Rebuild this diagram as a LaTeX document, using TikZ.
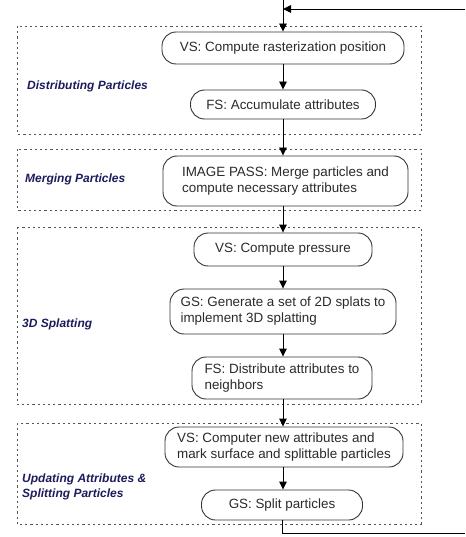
\documentclass[tikz,border=0pt]{standalone}
\usepackage{fontspec}
\setmainfont{Liberation Sans}
\usetikzlibrary{arrows.meta}
\definecolor{boxgray}{HTML}{333333}
\definecolor{txtgray}{HTML}{2A2A2A}
\definecolor{grpgray}{HTML}{555555}
\definecolor{navy}{HTML}{1C1C5C}
\tikzset{
  stepbox/.style={draw=boxgray, line width=0.9pt, rounded corners=14pt, text=txtgray,
    font=\fontsize{13.4}{16}\selectfont, align=left, inner sep=0pt},
  grpbox/.style={draw=grpgray, line width=0.9pt, dash pattern=on 2.2pt off 3pt},
  grplabel/.style={anchor=west, text=navy, font=\fontsize{12}{14.8}\selectfont\bfseries\itshape, align=left, inner sep=0pt},
  flow/.style={draw=black, line width=0.9pt, -{Triangle[length=8pt,width=7.5pt]}},
}
\begin{document}
\begin{tikzpicture}[x=1pt,y=-1pt]
\useasboundingbox (0,0) rectangle (465,537);
% group boxes
\draw[grpbox] (17,26) rectangle (421,134);
\draw[grpbox] (17,149) rectangle (421,210);
\draw[grpbox] (17,227) rectangle (421,404);
\draw[grpbox] (17,423) rectangle (421,524);
% group labels
\node[grplabel] (l1) at (27,86) {Distributing Particles};
\node[grplabel] (l2) at (25,179) {Merging Particles};
\node[grplabel] (l3) at (22,324) {3D Splatting};
\node[grplabel] (l4) at (22,486.5) {Updating Attributes \&\\Splitting Particles};
% steps
\node[stepbox, minimum width=242pt, minimum height=32pt] (n1) at (283,48) {VS: Compute rasterization position};
\node[stepbox, minimum width=185pt, minimum height=29pt] (n2) at (283,104.5) {FS: Accumulate attributes};
\node[stepbox, minimum width=245pt, minimum height=50pt] (n3) at (285.5,181) {IMAGE PASS: Merge particles and\\compute necessary attributes};
\node[stepbox, minimum width=178pt, minimum height=33pt] (n4) at (283,249.5) {VS: Compute pressure};
\node[stepbox, minimum width=226pt, minimum height=45pt] (n5) at (283,311.5) {GS: Generate a set of 2D splats to\\implement 3D splatting};
\node[stepbox, minimum width=180pt, minimum height=42pt] (n6) at (282,378) {FS: Distribute attributes to\\neighbors};
\node[stepbox, minimum width=238pt, minimum height=40pt] (n7) at (284,447) {VS: Computer new attributes and\\mark surface and splittable particles};
\node[stepbox, minimum width=161pt, minimum height=30pt] (n8) at (282,505) {GS: Split particles};
% connectors
\coordinate (top) at (283,0);
\coordinate (fb) at (465,9);
\coordinate (out) at (465,533);
\draw[flow] (top) -- (n1.north);
\draw[flow] (fb) -- (fb -| n1.north);
\draw[flow] (n1.south) -- (n1.south |- n2.north);
\draw[flow] (n2.south) -- (n2.south |- n3.north);
\draw[flow] (n2.south |- n3.south) -- (n2.south |- n4.north);
\draw[flow] (n4.south) -- (n4.south |- n5.north);
\draw[flow] (n5.south) -- (n5.south |- n6.north);
\draw[flow] (n5.south |- n6.south) -- (n5.south |- n7.north);
\draw[flow] (n5.south |- n7.south) -- (n5.south |- n8.north);
\draw[draw=black, line width=0.9pt] (n8.south) |- (out);
\end{tikzpicture}
\end{document}
